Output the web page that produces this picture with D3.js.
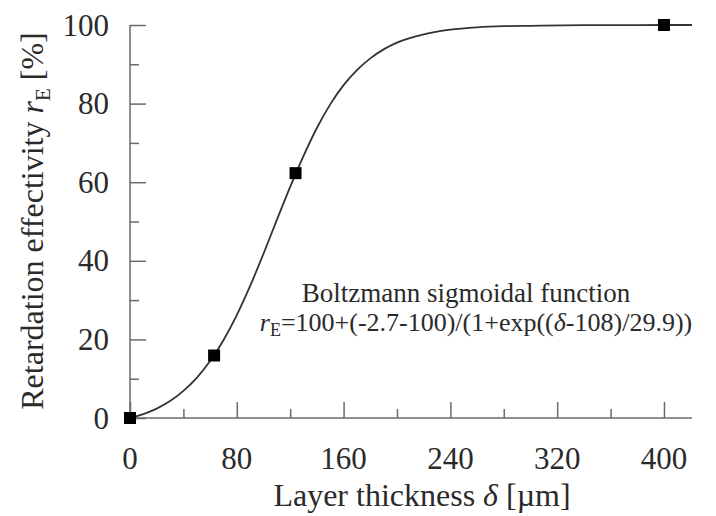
<!DOCTYPE html>
<html><head><meta charset="utf-8">
<script src="https://cdn.jsdelivr.net/npm/d3@7"></script>
<style>
body{margin:0;background:#fff;}
text{font-family:"Liberation Serif","Times New Roman",serif;fill:#2a2a2a;}
</style></head>
<body><svg id="c" width="716" height="516"></svg>
<script>
// measured points
const pointX = [0, 63, 124, 400];
const pointY = [0, 15.9, 62.3, 100];
// fitted curve
const curveX = [0,10,20,30,40,50,60,70,80,90,100,110,120,130,140,150,160,170,180,190,200,220,240,260,280,300,340,380,421];
const curveY = [0,1.0,2.4,4.3,6.9,10.2,14.5,19.8,26.2,33.6,41.8,50.4,58.8,66.7,73.8,79.8,84.7,88.5,91.5,93.8,95.5,97.6,98.8,99.4,99.7,99.8,99.96,99.99,100];
const xTicks = [0, 80, 160, 240, 320, 400];
const xMinor = [40, 120, 200, 280, 360];
const yTicks = [0, 20, 40, 60, 80, 100];
const yMinor = [10, 30, 50, 70, 90];

const svg = d3.select("#c");
const x = d3.scaleLinear().domain([0, 421]).range([130, 692]);
const y = d3.scaleLinear().domain([0, 100]).range([418, 25]);
const axisColor = "#6a6a6a";

// axes lines
svg.append("line").attr("x1", x(0)).attr("x2", x(421)).attr("y1", y(0)).attr("y2", y(0))
  .attr("stroke", axisColor).attr("stroke-width", 1.5);
svg.append("line").attr("x1", x(0)).attr("x2", x(0)).attr("y1", y(0)).attr("y2", y(100))
  .attr("stroke", axisColor).attr("stroke-width", 1.5);

// ticks (inward)
const xa = d3.axisTop(x).tickValues(xTicks).tickSize(16).tickFormat("");
const gx = svg.append("g").attr("transform", `translate(0,${y(0)})`).call(xa);
const xam = d3.axisTop(x).tickValues(xMinor).tickSize(9).tickFormat("");
const gxm = svg.append("g").attr("transform", `translate(0,${y(0)})`).call(xam);
const ya = d3.axisRight(y).tickValues(yTicks).tickSize(16).tickFormat("");
const gy = svg.append("g").attr("transform", `translate(${x(0)},0)`).call(ya);
const yam = d3.axisRight(y).tickValues(yMinor).tickSize(9).tickFormat("");
const gym = svg.append("g").attr("transform", `translate(${x(0)},0)`).call(yam);
[gx, gxm, gy, gym].forEach(g => {
  g.select(".domain").remove();
  g.selectAll("line").attr("stroke", axisColor).attr("stroke-width", 1.5);
});

// tick labels
svg.append("g").selectAll("text").data(xTicks).join("text")
  .attr("x", d => x(d)).attr("y", 469).attr("text-anchor", "middle")
  .attr("font-size", 31).text(d => d);
svg.append("g").selectAll("text").data(yTicks).join("text")
  .attr("x", 109).attr("y", d => y(d) + 10.5).attr("text-anchor", "end")
  .attr("font-size", 31).text(d => d);

// curve
const line = d3.line().x((d, i) => x(curveX[i])).y(d => y(d)).curve(d3.curveMonotoneX);
svg.append("path").attr("d", line(curveY)).attr("fill", "none")
  .attr("stroke", "#333").attr("stroke-width", 1.8);

// points
const s = 12;
svg.append("g").selectAll("rect").data(pointX).join("rect")
  .attr("x", (d) => x(d) - s / 2).attr("y", (d, i) => y(pointY[i]) - s / 2)
  .attr("width", s).attr("height", s).attr("fill", "#000");

// axis titles
const xt = svg.append("text").attr("x", 422).attr("y", 506).attr("text-anchor", "middle").attr("font-size", 32);
xt.append("tspan").text("Layer thickness ");
xt.append("tspan").attr("font-style", "italic").text("δ");
xt.append("tspan").text(" [µm]");

const yt = svg.append("text").attr("transform", "translate(43,221) rotate(-90)").attr("text-anchor", "middle").attr("font-size", 32);
yt.append("tspan").text("Retardation effectivity ");
yt.append("tspan").attr("font-style", "italic").text("r");
yt.append("tspan").attr("font-size", 21).attr("dy", 7).text("E");
yt.append("tspan").attr("dy", -7).text(" [%]");

// annotation
svg.append("text").attr("x", 466).attr("y", 302).attr("text-anchor", "middle").attr("font-size", 27)
  .text("Boltzmann sigmoidal function");
const an = svg.append("text").attr("x", 476).attr("y", 331).attr("text-anchor", "middle").attr("font-size", 26);
an.append("tspan").attr("font-style", "italic").text("r");
an.append("tspan").attr("font-size", 18).attr("dy", 5).text("E");
an.append("tspan").attr("dy", -5).text("=100+(-2.7-100)/(1+exp((");
an.append("tspan").attr("font-style", "italic").text("δ");
an.append("tspan").text("-108)/29.9))");
</script></body></html>
